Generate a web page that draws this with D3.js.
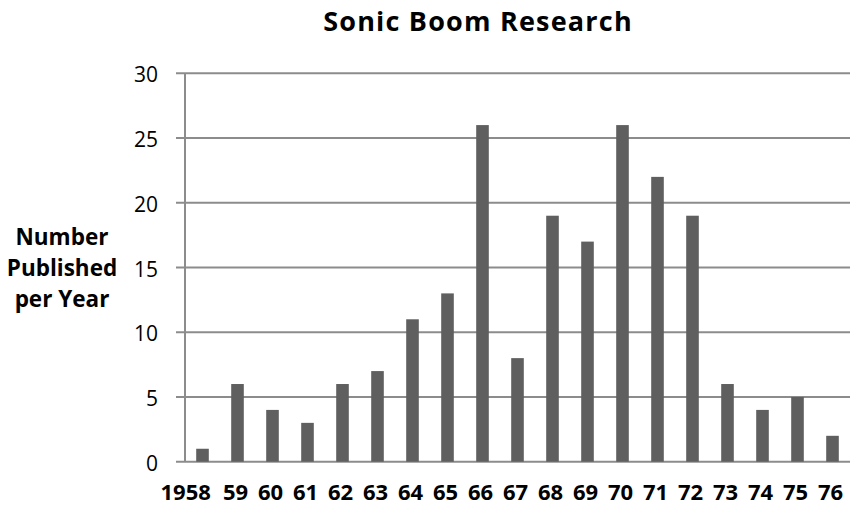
<!DOCTYPE html>
<html>
<head>
<meta charset="utf-8">
<script src="https://cdn.jsdelivr.net/npm/d3@7"></script>
<style>
  html, body { margin: 0; padding: 0; background: #fff; }
  svg { display: block; font-family: "Open Sans", "Noto Sans", sans-serif; }
</style>
</head>
<body>
<svg id="chart" width="851" height="508"></svg>
<script>
const years = ["1958","59","60","61","62","63","64","65","66","67","68","69","70","71","72","73","74","75","76"];
const counts = [1,6,4,3,6,7,11,13,26,8,19,17,26,22,19,6,4,5,2];
const yTicks = [0,5,10,15,20,25,30];
const titleText = "Sonic Boom Research";
const yLabelLines = ["Number","Published","per Year"];

const svg = d3.select("#chart");
const mLeft = 185, mRight = 850, mTop = 73.3, mBottom = 461.7;

const x = d3.scaleBand().domain(years).range([mLeft, mRight]).paddingInner(0.64).paddingOuter(0.32);
const y = d3.scaleLinear().domain([0, 30]).range([mBottom, mTop]);

// gridlines
svg.append("g").selectAll("line").data(yTicks).join("line")
  .attr("x1", 176).attr("x2", mRight)
  .attr("y1", d => y(d)).attr("y2", d => y(d))
  .attr("stroke", "#8c8c8c").attr("stroke-width", 2);

// y axis line
svg.append("line").attr("x1", mLeft).attr("x2", mLeft).attr("y1", mTop).attr("y2", mBottom)
  .attr("stroke", "#8c8c8c").attr("stroke-width", 2);

// bars
svg.append("g").selectAll("rect").data(years.map((yr, i) => ({yr, v: counts[i]}))).join("rect")
  .attr("x", d => x(d.yr))
  .attr("width", x.bandwidth())
  .attr("y", d => y(d.v))
  .attr("height", d => y(0) - y(d.v))
  .attr("fill", "#5f5f5f");

// y tick labels
svg.append("g").selectAll("text").data(yTicks).join("text")
  .attr("x", 158).attr("y", d => y(d) + 9)
  .attr("text-anchor", "end")
  .attr("font-size", 21)
  .attr("fill", "#000")
  .text(d => d);

// x tick labels
svg.append("g").selectAll("text").data(years).join("text")
  .attr("x", (d, i) => i === 0 ? x(d) + x.bandwidth() + 2 : x(d) + x.bandwidth() / 2 - 2)
  .attr("y", 500)
  .attr("text-anchor", (d, i) => i === 0 ? "end" : "middle")
  .attr("font-size", 22)
  .attr("font-weight", "bold")
  .attr("fill", "#000")
  .text(d => d);

// title
svg.append("text").attr("x", 478).attr("y", 31)
  .attr("text-anchor", "middle").attr("font-size", 27).attr("font-weight", "bold")
  .attr("letter-spacing", 1.2)
  .text(titleText);

// y label
svg.append("g").selectAll("text").data(yLabelLines).join("text")
  .attr("x", 62).attr("y", (d, i) => 245 + i * 31)
  .attr("text-anchor", "middle").attr("font-size", 22.5).attr("font-weight", "bold")
  .text(d => d);
</script>
</body>
</html>
